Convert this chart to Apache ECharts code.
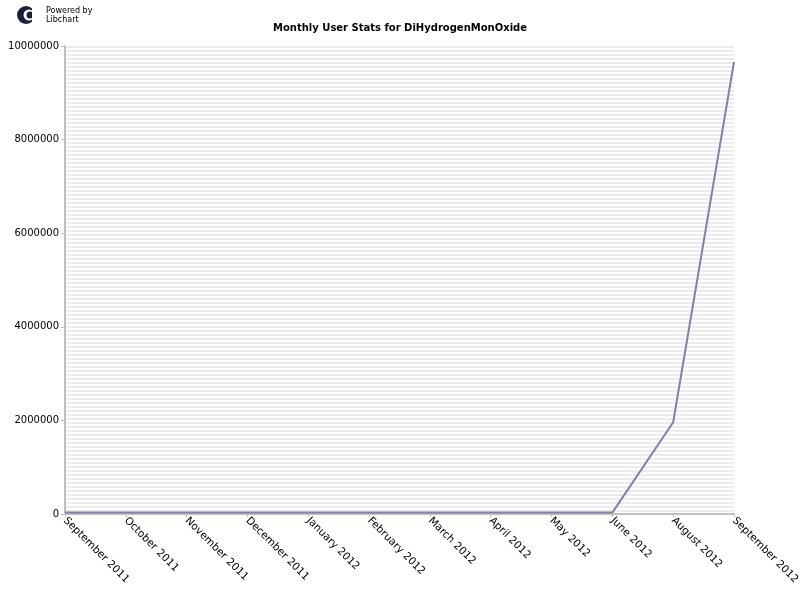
<!DOCTYPE html>
<html>
<head>
<meta charset="utf-8">
<style>
  html, body { margin: 0; padding: 0; background: #fff; }
  #main { width: 800px; height: 600px; }
</style>
<script src="https://cdn.jsdelivr.net/npm/echarts@6/dist/echarts.min.js"></script>
</head>
<body>
<div id="main"></div>
<script>
// months shown on the x axis
const months = [
  'September 2011', 'October 2011', 'November 2011', 'December 2011',
  'January 2012', 'February 2012', 'March 2012', 'April 2012',
  'May 2012', 'June 2012', 'August 2012', 'September 2012'
];
// users per month
const users = [30000, 30000, 30000, 30000, 30000, 30000, 30000, 30000, 30000, 30000, 1960000, 9660000];
const yTicks = [0, 2000000, 4000000, 6000000, 8000000, 10000000];

const font = 'DejaVu Sans';
const chart = echarts.init(document.getElementById('main'));

chart.setOption({
  animation: false,
  title: {
    text: 'Monthly User Stats for DiHydrogenMonOxide',
    left: 'center',
    top: 18,
    textStyle: { fontFamily: font, fontSize: 10, fontWeight: 'bold', color: '#000' }
  },
  graphic: [
    { type: 'circle', shape: { cx: 26, cy: 15, r: 9 }, style: { fill: '#1c1f3a' } },
    { type: 'circle', shape: { cx: 29, cy: 15, r: 5.5 }, style: { fill: '#fff' } },
    { type: 'circle', shape: { cx: 30, cy: 15, r: 3.5 }, style: { fill: '#1c1f3a' } },
    { type: 'rect', shape: { x: 32, y: 6, width: 4, height: 18 }, style: { fill: '#fff' } },
    {
      type: 'text', left: 46, top: 6,
      style: { text: 'Powered by\nLibchart', font: '8px "DejaVu Sans"', fill: '#000', lineHeight: 9 }
    }
  ],
  grid: { left: 65, right: 66, top: 46, bottom: 86, containLabel: false, outerBoundsMode: 'none' },
  xAxis: {
    type: 'category',
    data: months,
    boundaryGap: false,
    axisLine: { lineStyle: { color: '#c0c0c0', width: 2 } },
    axisTick: { show: true, alignWithLabel: true, length: 3, lineStyle: { color: '#c0c0c0' } },
    axisLabel: {
      rotate: -45, interval: 0, margin: 5,
      fontFamily: font, fontSize: 10.5, color: '#000'
    },
    splitLine: { show: false }
  },
  yAxis: [
    {
      type: 'value',
      min: yTicks[0],
      max: yTicks[yTicks.length - 1],
      interval: 2000000,
      axisLine: { show: true, lineStyle: { color: '#c0c0c0', width: 2 } },
      axisTick: { show: true, length: 4, lineStyle: { color: '#c0c0c0' } },
      axisLabel: { fontFamily: font, fontSize: 10, color: '#000', margin: 6, formatter: v => String(v) },
      splitLine: { show: false }
    },
    {
      // hidden axis just for the striped background
      type: 'value',
      min: 0, max: 468, interval: 2,
      position: 'left',
      axisLine: { show: false }, axisTick: { show: false }, axisLabel: { show: false },
      splitLine: { show: false },
      splitArea: { show: true, areaStyle: { color: ['#ffffff', '#ececec'] } }
    }
  ],
  series: [
    {
      name: 'Users',
      type: 'line',
      data: users,
      symbol: 'none',
      lineStyle: { color: '#8080aa', width: 2 },
      z: 5
    }
  ]
});
</script>
</body>
</html>
